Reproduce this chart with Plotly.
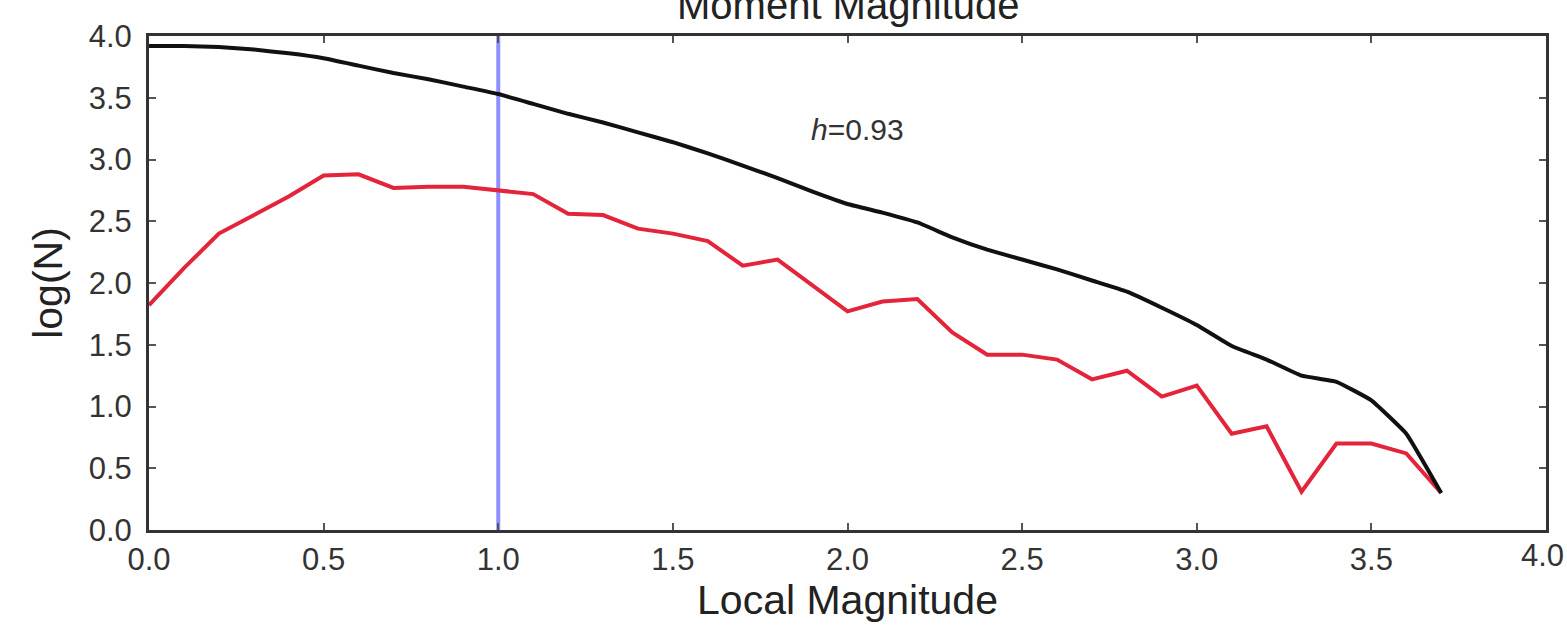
import plotly.graph_objects as go

# Data
mag = [0.0, 0.1, 0.2, 0.3, 0.4, 0.5, 0.6, 0.7, 0.8, 0.9,
       1.0, 1.1, 1.2, 1.3, 1.4, 1.5, 1.6, 1.7, 1.8, 1.9,
       2.0, 2.1, 2.2, 2.3, 2.4, 2.5, 2.6, 2.7, 2.8, 2.9,
       3.0, 3.1, 3.2, 3.3, 3.4, 3.5, 3.6, 3.7]

cumulative_logN = [3.92, 3.92, 3.91, 3.89, 3.86, 3.82, 3.76, 3.70, 3.65, 3.59,
                   3.53, 3.45, 3.37, 3.30, 3.22, 3.14, 3.05, 2.95, 2.85, 2.74,
                   2.64, 2.57, 2.49, 2.37, 2.27, 2.19, 2.11, 2.02, 1.93, 1.80,
                   1.66, 1.49, 1.38, 1.25, 1.20, 1.05, 0.78, 0.30]

incremental_logN = [1.82, 2.12, 2.40, 2.55, 2.70, 2.87, 2.88, 2.77, 2.78, 2.78,
                    2.75, 2.72, 2.56, 2.55, 2.44, 2.40, 2.34, 2.14, 2.19, 1.98,
                    1.77, 1.85, 1.87, 1.60, 1.42, 1.42, 1.38, 1.22, 1.29, 1.08,
                    1.17, 0.78, 0.84, 0.31, 0.70, 0.70, 0.62, 0.30]

mc_line = 1.0
b_value_text = "<i>h</i>=0.93"
tick_vals = [0.0, 0.5, 1.0, 1.5, 2.0, 2.5, 3.0, 3.5, 4.0]
tick_text = ["0.0", "0.5", "1.0", "1.5", "2.0", "2.5", "3.0", "3.5", "4.0"]

FONT = "Liberation Sans, Arial, Helvetica, sans-serif"

fig = go.Figure()

fig.add_trace(go.Scatter(x=[mc_line, mc_line], y=[0, 4], mode="lines",
                         line=dict(color="#8f8fff", width=4), showlegend=False,
                         hoverinfo="skip"))
fig.add_trace(go.Scatter(x=mag, y=incremental_logN, mode="lines",
                         line=dict(color="#e3243a", width=4), showlegend=False))
fig.add_trace(go.Scatter(x=mag, y=cumulative_logN, mode="lines",
                         line=dict(color="#111111", width=4, shape="spline", smoothing=0.3),
                         showlegend=False))

axis_common = dict(
    showgrid=False, zeroline=False,
    showline=True, linecolor="#333333", linewidth=3, mirror="allticks",
    ticks="inside", ticklen=7, tickwidth=1.5, tickcolor="#555555",
    tickfont=dict(family=FONT, size=31, color="#333333"),
    tickmode="array", tickvals=tick_vals, ticktext=tick_text,
)

fig.update_layout(
    width=1567, height=634,
    margin=dict(l=149, r=21, t=36, b=104),
    paper_bgcolor="white", plot_bgcolor="white",
    xaxis=dict(range=[0, 4], **axis_common,
               title=dict(text="Local Magnitude", font=dict(family=FONT, size=41, color="#222222"),
                          standoff=8)),
    yaxis=dict(range=[0, 4], **axis_common, ticklabelstandoff=8,
               title=dict(text="log(N)", font=dict(family=FONT, size=41, color="#222222"),
                          standoff=14)),
    annotations=[
        dict(text="Moment Magnitude", xref="paper", yref="paper", x=0.5, y=1.062,
             xanchor="center", yanchor="middle", showarrow=False,
             font=dict(family=FONT, size=40, color="#222222")),
        dict(text=b_value_text, xref="x", yref="y", x=2.03, y=3.24,
             xanchor="center", yanchor="middle", showarrow=False,
             font=dict(family=FONT, size=30, color="#333333")),
        dict(text=tick_text[-1], xref="x", yref="paper", x=tick_vals[-1], y=0,
             xanchor="right", yanchor="top", yshift=-6, xshift=20, showarrow=False,
             font=dict(family=FONT, size=31, color="#333333")),
    ],
)

fig.write_html("out.html")
